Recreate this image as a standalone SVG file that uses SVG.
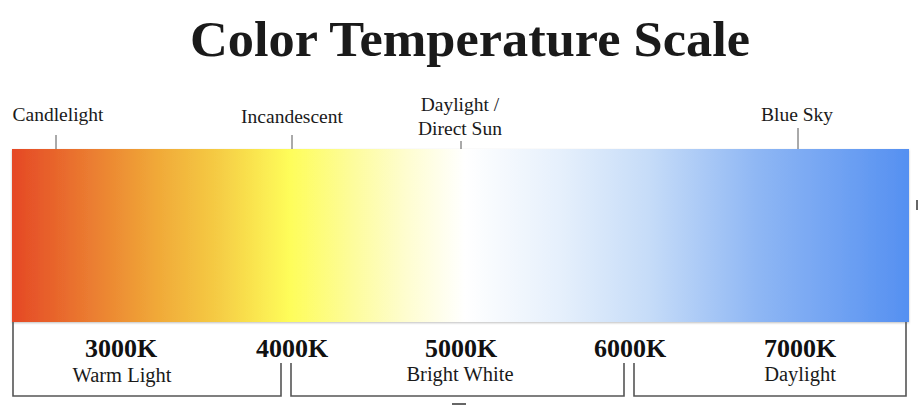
<svg xmlns="http://www.w3.org/2000/svg" width="920" height="406" viewBox="0 0 920 406">
<defs>
<linearGradient id="spectrum" x1="0" y1="0" x2="1" y2="0">
<stop offset="0" stop-color="#e54826"/>
<stop offset="0.05" stop-color="#e8662c"/>
<stop offset="0.16" stop-color="#f0a838"/>
<stop offset="0.23" stop-color="#f5cc44"/>
<stop offset="0.31" stop-color="#fefd5a"/>
<stop offset="0.38" stop-color="#fdfc9c"/>
<stop offset="0.44" stop-color="#fefdd0"/>
<stop offset="0.505" stop-color="#ffffff"/>
<stop offset="0.61" stop-color="#e6f0fc"/>
<stop offset="0.71" stop-color="#c6dcf8"/>
<stop offset="0.83" stop-color="#8fb7f4"/>
<stop offset="1" stop-color="#5590f1"/>
</linearGradient>
<filter id="shadow" x="-5%" y="-10%" width="110%" height="120%">
<feDropShadow dx="0" dy="1" stdDeviation="1.2" flood-color="#000" flood-opacity="0.25"/>
</filter>
</defs>
<style>
.lbl{font-family:"Liberation Serif","Times New Roman",serif;font-size:19.5px;fill:#1a1a1a;text-anchor:middle}
.k{font-family:"Liberation Serif","Times New Roman",serif;font-size:26px;font-weight:bold;fill:#111;text-anchor:middle}
.sub{font-family:"Liberation Serif","Times New Roman",serif;font-size:20.5px;fill:#1a1a1a;text-anchor:middle}
.tick{stroke:#555;stroke-width:1;fill:none}
.br{stroke:#555;stroke-width:1.6;fill:none}
</style>
<rect width="920" height="406" fill="#ffffff"/>
<text x="470" y="56" font-family="'Liberation Serif','Times New Roman',serif" font-size="50" font-weight="bold" fill="#1a1a1a" text-anchor="middle" textLength="560" lengthAdjust="spacingAndGlyphs">Color Temperature Scale</text>
<g id="bar">
<rect x="12" y="149" width="897" height="173" fill="url(#spectrum)" filter="url(#shadow)"/>
</g>
<g id="connectors">
<line class="tick" x1="56" y1="135" x2="56" y2="149"/>
<line class="tick" x1="292" y1="135" x2="292" y2="149"/>
<line class="tick" x1="461" y1="141" x2="461" y2="149"/>
<line class="tick" x1="798" y1="128" x2="798" y2="149"/>
<polyline class="br" points="13,322 13,396 281,396 281,363"/>
<polyline class="br" points="291,363 291,396 624,396 624,363"/>
<polyline class="br" points="634,363 634,396 906,396 906,322"/>
</g>
<g id="candlelight"><text class="lbl" x="58" y="121">Candlelight</text></g>
<g id="incandescent"><text class="lbl" x="292" y="123">Incandescent</text></g>
<g id="daylight-sun"><text class="lbl" x="460" y="111">Daylight /</text><text class="lbl" x="460" y="135">Direct Sun</text></g>
<g id="blue-sky"><text class="lbl" x="797" y="121">Blue Sky</text></g>
<g id="k3000"><text class="k" x="121" y="357">3000K</text><text class="sub" x="122" y="382">Warm Light</text></g>
<g id="k4000"><text class="k" x="292" y="357">4000K</text></g>
<g id="k5000"><text class="k" x="461" y="357">5000K</text><text class="sub" x="460" y="381">Bright White</text></g>
<g id="k6000"><text class="k" x="630" y="357">6000K</text></g>
<g id="k7000"><text class="k" x="800" y="357">7000K</text><text class="sub" x="800" y="381">Daylight</text></g>
<g id="marks">
<line x1="917" y1="200" x2="917" y2="210" stroke="#333" stroke-width="1.5"/>
<line x1="452" y1="404" x2="466" y2="404" stroke="#333" stroke-width="1.5"/>
</g>
</svg>
